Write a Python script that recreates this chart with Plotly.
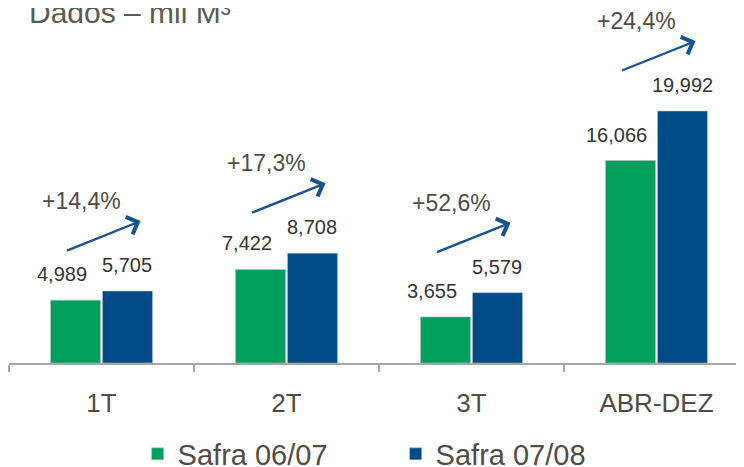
import plotly.graph_objects as go

categories = ["1T", "2T", "3T", "ABR-DEZ"]
safra_0607 = [4989, 7422, 3655, 16066]
safra_0708 = [5705, 8708, 5579, 19992]
growth_labels = ["+14,4%", "+17,3%", "+52,6%", "+24,4%"]
series_names = ["Safra 06/07", "Safra 07/08"]

GREEN = "#009F5B"
BLUE = "#004A85"
ARROW = "#17548F"
TEXT = "#4d4d45"
FONT = "Liberation Sans, Arial, sans-serif"

fig = go.Figure()
fig.add_trace(go.Bar(x=categories, y=safra_0607, name=series_names[0],
                     marker=dict(color=GREEN, line=dict(color="rgba(170,185,200,0.55)", width=1))))
fig.add_trace(go.Bar(x=categories, y=safra_0708, name=series_names[1],
                     marker=dict(color=BLUE, line=dict(color="rgba(170,185,200,0.55)", width=1))))

bargap = 0.438
half = (1 - bargap) / 4
fmt = lambda v: f"{v:,}"

for i, cat in enumerate(categories):
    # value labels
    fig.add_annotation(x=i - half, y=safra_0607[i], text=fmt(safra_0607[i]), showarrow=False,
                       xanchor="center", yanchor="middle", xshift=-14, yshift=26,
                       font=dict(family=FONT, size=20, color="#333333"))
    fig.add_annotation(x=i + half, y=safra_0708[i], text=fmt(safra_0708[i]), showarrow=False,
                       xanchor="center", yanchor="middle", xshift=0, yshift=26,
                       font=dict(family=FONT, size=20, color="#333333"))
    # growth arrow
    fig.add_annotation(x=i, y=safra_0708[i], text="", showarrow=True,
                       axref="pixel", ayref="pixel", ax=-75, ay=30,
                       xshift=39, yshift=70,
                       arrowhead=4, arrowsize=1.5, arrowwidth=2.4, arrowcolor=ARROW,
                       standoff=0, startstandoff=0)
    # growth label
    fig.add_annotation(x=i, y=safra_0708[i], text=growth_labels[i], showarrow=False,
                       xanchor="center", yanchor="middle", xshift=-20, yshift=90,
                       font=dict(family=FONT, size=23, color=TEXT))

fig.add_annotation(xref="paper", yref="paper", x=0.024, y=0.969, xanchor="left", yanchor="bottom",
                   text="Dados – mil M³", showarrow=False,
                   font=dict(family=FONT, size=30, color="#5a5a52"))

fig.update_layout(
    width=744, height=467,
    margin=dict(l=1, r=0, t=12, b=112, autoexpand=False),
    plot_bgcolor="white", paper_bgcolor="white",
    barmode="group", bargap=bargap, bargroupgap=0.04,
    showlegend=True,
    legend=dict(orientation="h", xref="container", yref="container",
                x=0.521, xanchor="center", y=0.045, yanchor="middle",
                font=dict(family=FONT, size=29, color=TEXT),
                entrywidth=213, entrywidthmode="pixels", bgcolor="rgba(0,0,0,0)"),
    xaxis=dict(range=[-0.5, -0.5 + 743 / 185], showline=True, linecolor="#a6a6a6", linewidth=2,
               ticks="outside", tickson="boundaries", ticklen=7, tickwidth=1.5, tickcolor="#a6a6a6",
               tickfont=dict(family=FONT, size=26, color=TEXT), ticklabelstandoff=16,
               showgrid=False, zeroline=False, fixedrange=True, automargin=False),
    yaxis=dict(range=[0, 27222], visible=False, showgrid=False, zeroline=False),
)

fig.write_html("out.html")
